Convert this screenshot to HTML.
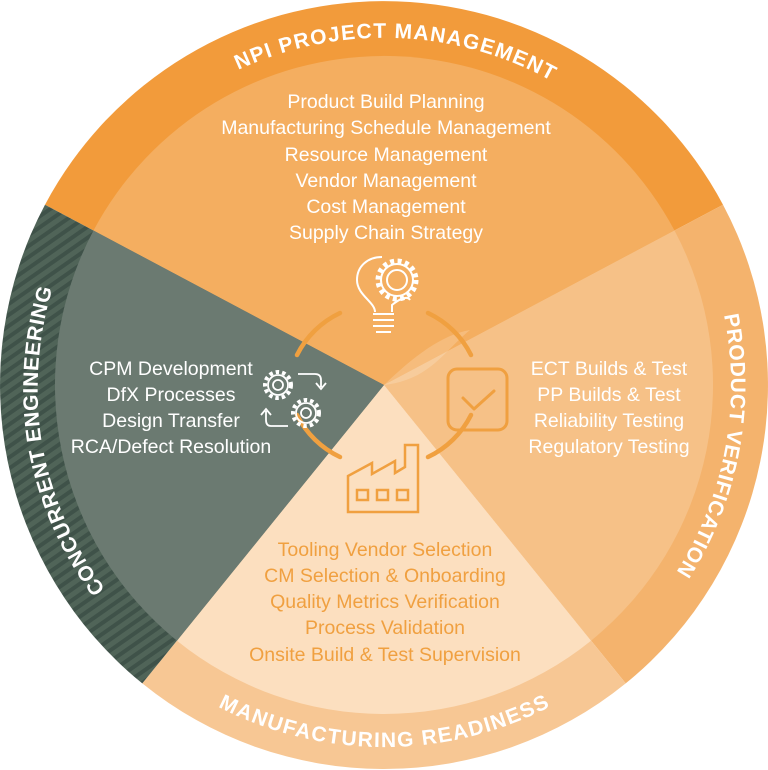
<!DOCTYPE html>
<html><head><meta charset="utf-8"><style>
html,body{margin:0;padding:0;background:#fff;}
svg{display:block;}
.t{font-family:"Liberation Sans",sans-serif;font-size:19.5px;text-anchor:middle;fill:#fff;}
.o{fill:#F0A040;}
.r{font-family:"Liberation Sans",sans-serif;font-weight:bold;font-size:21px;fill:#fff;}
</style></head><body>
<svg width="768" height="770" viewBox="0 0 768 770" xmlns="http://www.w3.org/2000/svg">
<defs>
<pattern id="st" width="9" height="9" patternUnits="userSpaceOnUse" patternTransform="rotate(-35)">
<rect width="9" height="9" fill="#506458"/>
<rect width="9" height="4" fill="#3f5249"/>
</pattern>
<path id="pTop" d="M372,732 A347,347 0 0 1 396,38 A347,347 0 0 1 372,732"/>
<path id="pRight" d="M42.8,321.8 A347,347 0 0 1 725.2,448.2 A347,347 0 0 1 42.8,321.8"/>
<path id="pLeft" d="M725.7,324.7 A347,347 0 0 1 42.3,445.3 A347,347 0 0 1 725.7,324.7"/>
<path id="pBot" d="M384,23 A362,362 0 0 0 384,747 A362,362 0 0 0 384,23"/>
</defs>
<path d="M384,385 L45,204.7 A384,384 0 0 1 723,204.7 Z" fill="#F29B3B"/>
<path d="M384,385 L723,204.7 A384,384 0 0 1 625.7,683.4 Z" fill="#F4B36D"/>
<path d="M384,385 L625.7,683.4 A384,384 0 0 1 142.3,683.4 Z" fill="#F7C794"/>
<path d="M384,385 L142.3,683.4 A384,384 0 0 1 45,204.7 Z" fill="url(#st)"/>
<path d="M384,385 L93.5,230.5 A329,329 0 0 1 674.5,230.5 Z" fill="#F4AE60"/>
<path d="M384,385 L674.5,230.5 A329,329 0 0 1 591,640.7 Z" fill="#F6C187"/>
<path d="M384,385 L591,640.7 A329,329 0 0 1 177,640.7 Z" fill="#FCDFBF"/>
<path d="M384,385 L177,640.7 A329,329 0 0 1 93.5,230.5 Z" fill="#6B7A71"/>
<path d="M384,385 C410,360 440,335 470,330 C445,350 430,380 384,385 Z" fill="#fff" opacity="0.18"/>
<text class="r"><textPath href="#pTop" startOffset="50%" text-anchor="middle" textLength="325" lengthAdjust="spacing">NPI PROJECT MANAGEMENT</textPath></text>
<text class="r"><textPath href="#pRight" startOffset="50%" text-anchor="middle" textLength="268" lengthAdjust="spacing">PRODUCT VERIFICATION</textPath></text>
<text class="r"><textPath href="#pLeft" startOffset="50%" text-anchor="middle" textLength="317" lengthAdjust="spacing">CONCURRENT ENGINEERING</textPath></text>
<text class="r"><textPath href="#pBot" startOffset="50%" text-anchor="middle" textLength="345" lengthAdjust="spacing">MANUFACTURING READINESS</textPath></text>
<g fill="none" stroke="#F0A040" stroke-width="4.5" stroke-linecap="round">
<path d="M297,355 A92,92 0 0 1 340,313"/>
<path d="M428,313 A92,92 0 0 1 471,355"/>
<path d="M471,415 A92,92 0 0 1 428,457"/>
<path d="M340,457 A92,92 0 0 1 297,415"/>
</g>
<g fill="none" stroke="#fff" stroke-width="2">
<path d="M375,312 C375,302 357,295 357,280 C357,266 368,257 382,257"/>
<path d="M392,312 L392,305 C398,300 407,295 410,300"/>
<line x1="373" y1="314" x2="394" y2="314"/>
<line x1="373" y1="320" x2="394" y2="320"/>
<line x1="373" y1="326" x2="394" y2="326"/>
<line x1="376" y1="332" x2="391" y2="332"/>
<circle cx="397" cy="280" r="19" stroke-width="5" stroke-dasharray="4 3.5"/>
<circle cx="397" cy="280" r="16"/>
<circle cx="397" cy="280" r="10"/>
</g>
<g fill="none" stroke="#fff" stroke-width="1.8">
<circle cx="278" cy="385" r="13" stroke-width="4" stroke-dasharray="3.5 3"/>
<circle cx="278" cy="385" r="10"/>
<circle cx="278" cy="385" r="5"/>
<circle cx="306" cy="413" r="13" stroke-width="4" stroke-dasharray="3.5 3"/>
<circle cx="306" cy="413" r="10"/>
<circle cx="306" cy="413" r="5"/>
<path d="M298,374 L315,374 Q321,374 321,380 L321,387 M316,383 L321,389 L326,383"/>
<path d="M288,426 L271,426 Q266,426 266,420 L266,411 M261,415 L266,409 L271,415"/>
</g>
<g fill="none" stroke="#F0A040" stroke-width="3" stroke-linecap="round" stroke-linejoin="round">
<rect x="448" y="369" width="59" height="61" rx="9"/>
<polyline points="463,398 474,409 494,391"/>
</g>
<g fill="none" stroke="#F0A040" stroke-width="2.5">
<path d="M348,512 L348,476 L372,463 L372,474 L395,461 L395,473 L405,467 L405,445 L418,445 L418,512 Z"/>
<rect x="357" y="490" width="11" height="10"/>
<rect x="377" y="490" width="11" height="10"/>
<rect x="397" y="490" width="11" height="10"/>
</g>
<g class="t">
<text x="386" y="108">Product Build Planning</text>
<text x="386" y="134">Manufacturing Schedule Management</text>
<text x="386" y="161">Resource Management</text>
<text x="386" y="187">Vendor Management</text>
<text x="386" y="213">Cost Management</text>
<text x="386" y="239">Supply Chain Strategy</text>
<text x="171" y="375">CPM Development</text>
<text x="171" y="401">DfX Processes</text>
<text x="171" y="427">Design Transfer</text>
<text x="171" y="453">RCA/Defect Resolution</text>
<text x="609" y="375">ECT Builds &amp; Test</text>
<text x="609" y="401">PP Builds &amp; Test</text>
<text x="609" y="427">Reliability Testing</text>
<text x="609" y="453">Regulatory Testing</text>
<text class="t o" x="385" y="556">Tooling Vendor Selection</text>
<text class="t o" x="385" y="582">CM Selection &amp; Onboarding</text>
<text class="t o" x="385" y="608">Quality Metrics Verification</text>
<text class="t o" x="385" y="634">Process Validation</text>
<text class="t o" x="385" y="661">Onsite Build &amp; Test Supervision</text>
</g>
</svg>
</body></html>
